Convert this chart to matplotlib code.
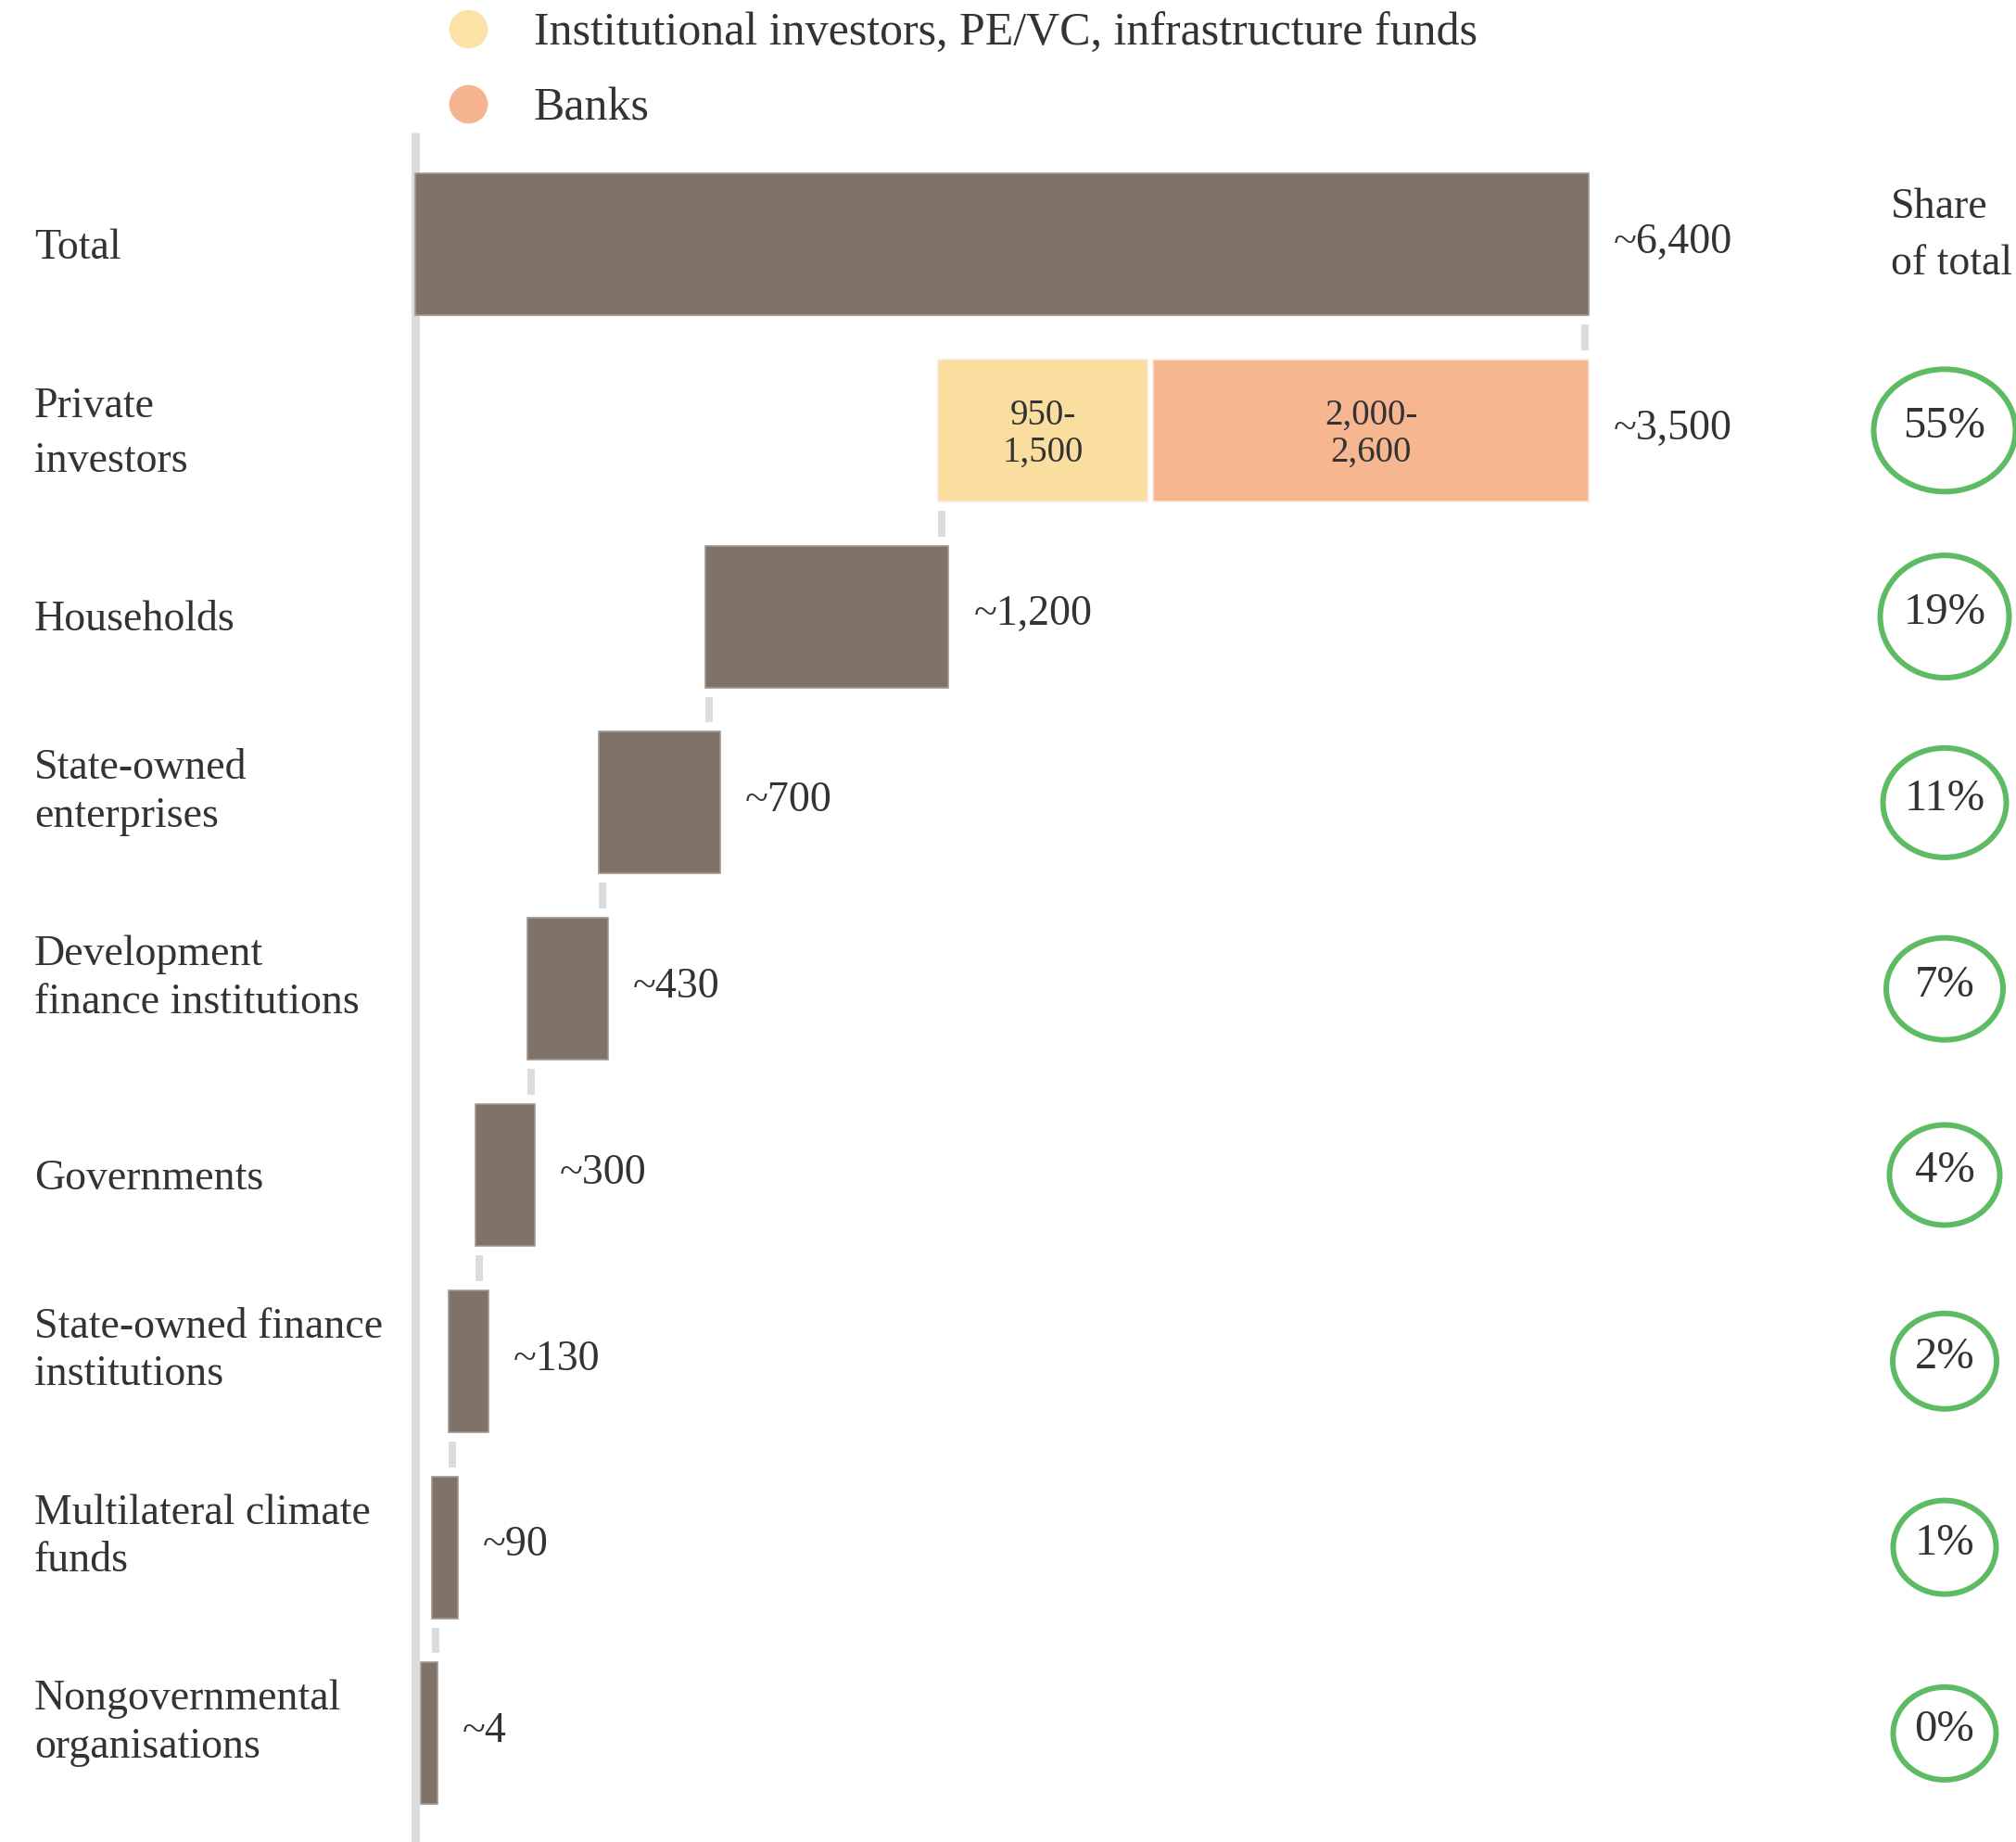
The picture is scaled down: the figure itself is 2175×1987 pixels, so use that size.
import matplotlib
matplotlib.use("Agg")
import matplotlib.pyplot as plt
from matplotlib.patches import Ellipse
from matplotlib.lines import Line2D

plt.rcParams['font.family'] = ['Liberation Serif', 'DejaVu Serif']

# data (units: the scale of the total, ~6,400)
categories = ['Total', 'Private\ninvestors', 'Households', 'State-owned\nenterprises',
              'Development\nfinance institutions', 'Governments',
              'State-owned finance\ninstitutions', 'Multilateral climate\nfunds',
              'Nongovernmental\norganisations']
value_labels = ['~6,400', '~3,500', '~1,200', '~700', '~430', '~300', '~130', '~90', '~4']
bar_lo = [0, 2853, 1584, 1002, 610, 329, 182, 91, 28]
bar_hi = [6400, 6400, 2909, 1661, 1051, 652, 400, 231, 119]
share_pct = [None, 55, 19, 11, 7, 4, 2, 1, 0]

# private investors split
part_names = ['Institutional investors, PE/VC, infrastructure funds', 'Banks']
part_lo = [2853, 4024]
part_hi = [3996, 6400]
part_labels = ['950-\n1,500', '2,000-\n2,600']
part_colors = ['#F9DEA0', '#F5B690']
legend_colors = ['#FBE3A8', '#F5B48F']

# styling
BAR = '#7F7269'
GREY = '#DCDCDC'
GREEN = '#5DBB63'
TXT = '#333333'
FS = 33

# pixel layout of the reference (full size 2175 x 1987)
W, H = 2175, 1987
X0, PXU = 448, 1266 / 6400          # x pixel of zero, pixels per unit
Y0, ROW = 263.5, 200.8              # y pixel of first row, pixels per row

fig = plt.figure(figsize=(W / 100, H / 100), dpi=100)
ax = fig.add_axes([0, 0, 1, 1])
ax.set_xlim(-X0 / PXU, (W - X0) / PXU)
ax.set_ylim((H - Y0) / ROW, -Y0 / ROW)
ax.axis('off')

def ux(px):
    return (px - X0) / PXU

bar_h = 153 / ROW
gap = 10 / ROW
conn_w = 8 / PXU
rows = list(range(len(categories)))

# base axis line
ax.plot([0, 0], [(143 - Y0) / ROW, (H - Y0) / ROW + 1], color=GREY, lw=6.5,
        solid_capstyle='butt', zorder=1)

# bars
for i in rows:
    if i == 1:
        for lo, hi, c, lab in zip(part_lo, part_hi, part_colors, part_labels):
            ax.barh(i, hi - lo, left=lo, height=bar_h, color=c, edgecolor='#FBE8D8',
                    lw=1.2, zorder=3)
            ax.text((lo + hi) / 2, i + 0.02, lab, ha='center', va='center', fontsize=28,
                    color=TXT, linespacing=1.1, zorder=4)
    else:
        ax.barh(i, bar_hi[i] - bar_lo[i], left=bar_lo[i], height=bar_h, color=BAR,
                edgecolor='#A39890', lw=1.2, zorder=3)
    ax.text(bar_hi[i] + ux(X0 + 27), i - 0.01, value_labels[i], ha='left', va='center',
            fontsize=FS, color=TXT)
    two_lines = '\n' in categories[i]
    if i == 1:
        dy, ls = 0.02, 1.5
    elif two_lines:
        dy, ls = -0.055, 1.28
    else:
        dy, ls = 0.02, 1.28
    ax.text(ux(37), i + dy, categories[i], ha='left', va='center', fontsize=FS,
            color=TXT, linespacing=ls)

# connectors
for i in rows[1:]:
    if i == 1:
        cx = bar_hi[0] - conn_w / 2
    else:
        cx = bar_lo[i - 1] + conn_w / 2
    ax.plot([cx, cx], [i - 1 + bar_h / 2 + gap, i - bar_h / 2 - gap], color=GREY,
            lw=5.8, solid_capstyle='butt', zorder=2)

# share of total
ax.text(ux(2040), (254 - Y0) / ROW, 'Share\nof total', ha='left', va='center',
        fontsize=FS, color=TXT, linespacing=1.56)
ring_px = [(153, 132), (139, 132), (133, 118), (126, 110), (119, 108), (112, 103),
           (111, 101), (111, 100)]
for i, (wpx, hpx) in zip(rows[1:], ring_px):
    xc = ux(2098)
    ax.add_patch(Ellipse((xc, i), wpx / PXU, hpx / ROW, fill=False, ec=GREEN,
                         lw=4.3, zorder=3))
    ax.text(xc, i - 0.02, f'{share_pct[i]}%', ha='center', va='center', fontsize=35,
            color=TXT)

# legend
handles = [Line2D([], [], ls='', marker='o', ms=30, mfc=c, mec='none')
           for c in legend_colors]
ax.legend(handles, part_names, loc='upper left', bbox_to_anchor=(480 / W, 1 - 13 / H),
          frameon=False, fontsize=36, handlelength=1.0, handletextpad=0.92,
          labelspacing=0.68, borderpad=0, borderaxespad=0, labelcolor=TXT)

fig.savefig('out.png', dpi=100, facecolor='white')
